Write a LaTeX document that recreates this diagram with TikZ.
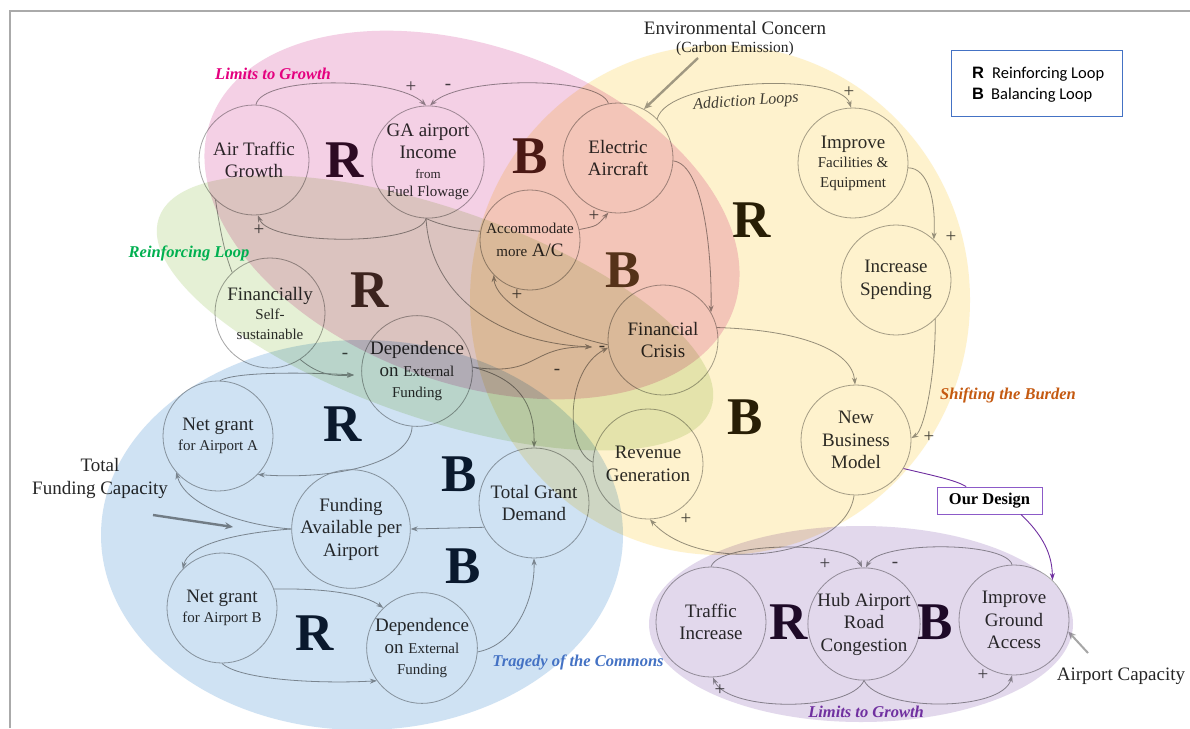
\documentclass[tikz,border=0pt]{standalone}
\usepackage{fontspec}
\setmainfont{Liberation Serif}
\newfontfamily\legfont{Carlito}
\newfontfamily\legboldfont{Liberation Sans}
\usetikzlibrary{arrows.meta}
\definecolor{framecol}{RGB}{170,170,170}
\definecolor{circcol}{RGB}{165,165,165}
\definecolor{linecol}{RGB}{150,150,150}
\definecolor{nodetext}{RGB}{45,45,45}
\definecolor{signcol}{RGB}{70,70,70}
\definecolor{ylw}{RGB}{254,242,205}
\definecolor{pnk}{RGB}{244,208,229}
\definecolor{grn}{RGB}{229,240,213}
\definecolor{blu}{RGB}{207,226,243}
\definecolor{prp}{RGB}{226,216,236}
\definecolor{magentaL}{RGB}{228,0,127}
\definecolor{greenL}{RGB}{0,176,80}
\definecolor{orangeL}{RGB}{197,90,17}
\definecolor{blueL}{RGB}{68,114,196}
\definecolor{purpleL}{RGB}{112,48,160}
\definecolor{odcol}{RGB}{140,90,200}
\definecolor{legcol}{RGB}{68,114,196}
\definecolor{Rpink}{RGB}{45,10,35}
\definecolor{Bsalmon}{RGB}{75,25,20}
\definecolor{Rylw}{RGB}{40,30,5}
\definecolor{Btan}{RGB}{85,50,25}
\definecolor{Rbrown}{RGB}{60,35,30}
\definecolor{Rblue}{RGB}{10,25,45}
\definecolor{Rprp}{RGB}{30,10,40}
\newcommand\mainsz{\fontsize{19}{22.5}\selectfont}
\newcommand\subsz{\fontsize{15}{18}\selectfont}
\newcommand\smallsz{\fontsize{13}{15}\selectfont}
\newcommand\bigsz{\fontsize{53}{53}\selectfont\bfseries}
\newcommand\lblsz{\fontsize{16.5}{19}\selectfont\bfseries\itshape}
\begin{document}
\begin{tikzpicture}[x=1pt,y=-1pt,
  cnode/.style={circle,draw=circcol,line width=0.8pt,minimum size=110pt,inner sep=0pt,align=center,text=nodetext,font=\mainsz},
  conn/.style={draw=linecol,line width=0.8pt,-{Stealth[length=7pt,width=5pt]}},
  plain/.style={draw=linecol,line width=0.8pt},
  pconn/.style={draw=purpleL,line width=0.9pt},
  extarrow/.style={line width=2.4pt,-{Stealth[length=8pt,width=7pt]}},
  sign/.style={font=\fontsize{19}{19}\selectfont,text=signcol,inner sep=0pt},
  loopL/.style={font=\bigsz,inner sep=0pt},
  lbl/.style={font=\lblsz,inner sep=0pt},
  plaintext/.style={inner sep=0pt,text=black!85}]
\useasboundingbox (0,0) rectangle (1190,728);
\fill[white] (0,0) rectangle (1190,728);
\draw[framecol,line width=2pt] (9.5,728) -- (9.5,10.5) -- (1190,10.5);

% nodes
\node[cnode] (AT) at (254,160) {Air Traffic\\Growth};
\node[cnode] (GA) at (428,162) {GA airport\\Income\\[-3pt]{\smallsz from}\\[-4pt]{\subsz Fuel Flowage}};
\node[cnode] (EA) at (618,158) {Electric\\Aircraft};
\node[cnode] (IF) at (853,163) {Improve\\[-3pt]{\subsz Facilities \&}\\[-3pt]{\subsz Equipment}};
\node[cnode] (IS) at (896,280) {Increase\\Spending};
\node[cnode,minimum size=100pt] (AC) at (530,240) {{\subsz Accommodate}\\{\subsz more} A/C};
\node[cnode] (FC) at (663,340) {Financial\\Crisis};
\node[cnode] (FS) at (270,313) {Financially\\[-3pt]{\subsz Self-}\\[-3pt]{\subsz sustainable}};
\node[cnode] (DE1) at (417,371) {Dependence\\on {\subsz External}\\[-2pt]{\subsz Funding}};
\node[cnode] (NA) at (218,436) {Net grant\\[-2pt]{\subsz for Airport A}};
\node[cnode] (TGD) at (534,503) {Total Grant\\Demand};
\node[cnode] (FA) at (351,529) {Funding\\Available per\\Airport};
\node[cnode] (NB) at (222,608) {Net grant\\[-2pt]{\subsz for Airport B}};
\node[cnode] (DE2) at (422,648) {Dependence\\on {\subsz External}\\[-2pt]{\subsz Funding}};
\node[cnode] (RG) at (648,464) {Revenue\\Generation};
\node[cnode] (NBM) at (856,440) {New\\Business\\Model};
\node[cnode] (TI) at (711,622) {Traffic\\Increase};
\node[cnode] (HUB) at (864,624) {Hub Airport\\Road\\Congestion};
\node[cnode] (IGA) at (1014,620) {Improve\\Ground\\Access};

\coordinate (fcin) at (592,347);
\coordinate (dein) at (354,375);

% pink / top connectors
\draw[conn] (AT.88) .. controls (262,76) and (395,76) .. (GA.92);
\draw[conn] (EA.100) .. controls (600,76) and (462,76) .. (GA.88);
\draw[conn] (GA.-92) .. controls (420,246) and (270,246) .. (AT.-86);
\draw[plain] (GA.-92) .. controls (440,225) and (462,230) .. (AC.170);
\draw[conn] (GA.-92) .. controls (430,290) and (490,342) .. (fcin);
\draw[conn] (DE1.4) .. controls (540,377) and (528,346) .. (fcin);
\draw[conn] (DE1.4) .. controls (515,378) and (535,400) .. (TGD.90);
\draw[conn] (EA.-3) .. controls (705,165) and (712,260) .. (FC.30);
\draw[conn] (EA.45) .. controls (668,78) and (840,72) .. (IF.92);
\draw[conn] (IF.-5) .. controls (928,168) and (936,200) .. (IS.47);
\draw[conn] (IS.-45) .. controls (936,370) and (925,430) .. (NBM.2);
\draw[conn] (FC.13) .. controls (800,330) and (852,350) .. (NBM.91);
\draw[conn] (NBM.-92) .. controls (845,560) and (700,575) .. (RG.-88);
\draw[conn] (AC.12) .. controls (597,226) .. (EA.-100);
\draw[conn] (FC.185) .. controls (540,330) and (495,300) .. (AC.-136);
\draw[conn] (RG.178) .. controls (565,450) and (565,370) .. (FC.188);

% green / blue connectors
\draw[plain] (AT.-134) .. controls (220,230) and (225,255) .. (FS.133);
\draw[conn] (FS.-57) .. controls (320,376) and (335,376) .. (dein);
\draw[conn] (NA.88) .. controls (235,372) and (300,372) .. (dein);
\draw[conn] (DE1.-95) .. controls (410,465) and (330,480) .. (NA.-44);
\draw[conn] (FA.180) .. controls (240,525) and (185,505) .. (NA.-139);
\draw[conn] (FA.180) .. controls (235,533) and (188,545) .. (NB.135);
\draw[conn] (TGD.-154) -- (FA.0);
\draw[conn] (NB.20) .. controls (330,588) and (365,595) .. (DE2.134);
\draw[conn] (NB.-90) .. controls (240,680) and (320,684) .. (DE2.-144);
\draw[conn] (DE2.-4) .. controls (515,645) and (535,600) .. (TGD.-90);

% purple connectors
\draw[conn] (TI.90) .. controls (720,541) and (850,541) .. (HUB.92);
\draw[conn] (IGA.92) .. controls (1005,541) and (880,541) .. (HUB.88);
\draw[conn] (HUB.-90) .. controls (850,712) and (728,712) .. (TI.-88);
\draw[conn] (HUB.-90) .. controls (880,712) and (1002,712) .. (IGA.-92);

% external texts and arrows
\node[plaintext,align=center,font=\fontsize{19}{23}\selectfont] (TFC) at (100,478) {Total\\Funding Capacity};
\coordinate (tfcA) at (153,515);
\coordinate (tfcB) at (233,527);
\draw[extarrow,draw=black!45] (tfcA) -- (tfcB);
\node[plaintext,font=\fontsize{19}{23}\selectfont] (ENV) at (735,28) {Environmental Concern};
\node[plaintext,font=\fontsize{15.5}{18}\selectfont] (CE) at (735,49) {(Carbon Emission)};
\coordinate (envA) at (698,58);
\draw[extarrow,draw=black!37] (envA) -- (EA.62);
\node[plaintext,font=\fontsize{19}{23}\selectfont] (ACAP) at (1121,676) {Airport Capacity};
\coordinate (acapA) at (1088,653);
\draw[extarrow,line width=2pt,draw=black!35] (acapA) -- (IGA.-12);

% signs
\node[sign] at (411,87) {+};
\node[sign] at (448,87) {-};
\node[sign] at (259,230) {+};
\node[sign] at (594,216) {+};
\node[sign] at (517,295) {+};
\node[sign] at (602,349) {-};
\node[sign] at (557,372) {-};
\node[sign] at (345,356) {-};
\node[sign] at (849,92) {+};
\node[sign] at (951,237) {+};
\node[sign] at (929,437) {+};
\node[sign] at (686,519) {+};
\node[sign] at (825,564) {+};
\node[sign] at (895,565) {-};
\node[sign] at (720,690) {+};
\node[sign] at (983,675) {+};
\node[inner sep=0pt,font=\fontsize{16}{18}\selectfont\itshape,text=black!75,rotate=4] at (746,102) {Addiction Loops};

% coloured loop areas
\begin{scope}[blend mode=multiply]
\fill[ylw] (720,300) ellipse [x radius=250pt, y radius=255pt];
\fill[blu] (362,535) ellipse [x radius=261pt, y radius=195pt];
\fill[grn,rotate around={-19:(435,313)}] (435,313) ellipse [x radius=292pt, y radius=105pt];
\fill[pnk,rotate around={-20:(472,215)}] (472,215) ellipse [x radius=278pt, y radius=168pt];
\fill[prp] (861,624) ellipse [x radius=212pt, y radius=98pt];
\end{scope}

% big loop letters
\node[loopL,text=Rpink] at (345,160) {R};
\node[loopL,text=Bsalmon] at (530,156) {B};
\node[loopL,text=Rylw] at (752,220) {R};
\node[loopL,text=Btan] at (623,270) {B};
\node[loopL,text=Rbrown] at (370,290) {R};
\node[loopL,text=Rblue] at (343,424) {R};
\node[loopL,text=Rblue] at (459,474) {B};
\node[loopL,text=Rblue] at (463,566) {B};
\node[loopL,text=Rblue] at (315,633) {R};
\node[loopL,text=Rylw] at (745,417) {B};
\node[loopL,text=Rprp] at (789,622) {R};
\node[loopL,text=Rprp] at (935,622) {B};

% loop labels
\node[lbl,text=magentaL] at (273,74) {Limits to Growth};
\node[lbl,text=greenL] at (189,253) {Reinforcing Loop};
\node[lbl,text=orangeL] at (1008,395) {Shifting the Burden};
\node[lbl,text=blueL] at (578,662) {Tragedy of the Commons};
\node[lbl,text=purpleL] at (866,712) {Limits to Growth};

% our design
\node[draw=odcol,line width=1pt,fill=white,minimum width=105pt,minimum height=27pt,inner sep=0pt,font=\fontsize{16.5}{18}\selectfont\bfseries] (OD) at (989.5,500.5) {Our Design};
\draw[pconn] (NBM.-31) .. controls (935,476) and (955,480) .. (OD.149);
\draw[pconn,-{Stealth[length=7pt,width=5pt]}] (OD.-24) .. controls (1048,540) and (1052,560) .. (IGA.46);

% legend
\node[draw=legcol,line width=1pt,minimum width=171pt,minimum height=66pt,inner sep=0pt] (LEG) at (1036.5,83) {};
\node[anchor=west,inner sep=0pt,font=\legfont\fontsize{16.5}{19}\selectfont] (LR) at (972,74) {{\legboldfont\bfseries R}\hspace{8pt}Reinforcing Loop};
\node[anchor=west,inner sep=0pt,font=\legfont\fontsize{16.5}{19}\selectfont] (LB) at (972,95) {{\legboldfont\bfseries B}\hspace{7pt}Balancing Loop};
\end{tikzpicture}
\end{document}
